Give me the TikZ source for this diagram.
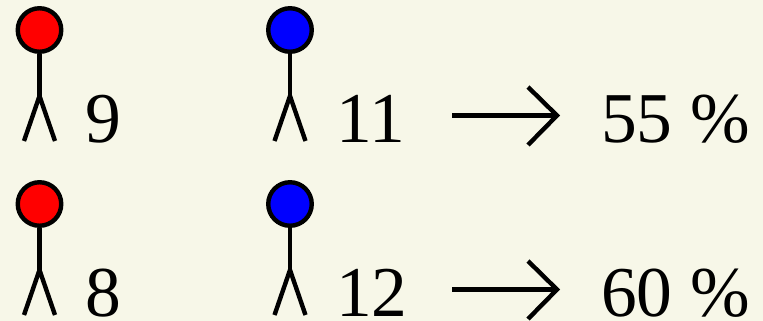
\documentclass[tikz,border=0pt]{standalone}
\usepackage{fontspec}
\setmainfont{Liberation Serif}
\definecolor{bgc}{RGB}{247,247,232}
\tikzset{
 headr/.style={circle,draw=black,line width=4.4pt,fill=red,minimum size=43.5pt,inner sep=0pt},
 headb/.style={headr,fill=blue},
 lbl/.style={inner sep=0pt,font=\fontsize{71.5}{71.5}\selectfont,anchor=base west},
 limb/.style={line width=4.4pt,line cap=butt,line join=miter},
 arr/.style={line width=4.4pt,line cap=butt,line join=miter}
}
\newcommand{\person}[4]{%
 \coordinate (#3w) at (#1pt,{-#2pt-66pt});
 \coordinate (#3l) at ({#1pt-15.5pt},{-#2pt-111pt});
 \coordinate (#3r) at ({#1pt+15.5pt},{-#2pt-111pt});
 \node[#4] (#3h) at (#1pt,-#2pt) {};
 \draw[limb] (#3h.south) -- (#3w);
 \draw[limb] (#3l) -- (#3w) -- (#3r);
}
\begin{document}
\begin{tikzpicture}[x=1pt,y=1pt]
\useasboundingbox (0,0) rectangle (763pt,-321pt);
\fill[bgc] (0,0) rectangle (763pt,-321pt);
\person{39.5}{30}{a}{headr}
\person{290}{30}{b}{headb}
\person{39.5}{204}{c}{headr}
\person{290}{204}{d}{headb}
\node[lbl] (t1) at (85pt,-142pt) {9};
\node[lbl] (t2) at (336pt,-142pt) {11};
\node[lbl] (t3) at (85pt,-316pt) {8};
\node[lbl] (t4) at (336pt,-316pt) {12};
\node[lbl] (p1) at (601pt,-142pt) {55 \%};
\node[lbl] (p2) at (601pt,-316pt) {60 \%};
\coordinate (s1) at (452pt,-115.5pt); \coordinate (e1) at (557pt,-115.5pt);
\coordinate (s2) at (452pt,-289.5pt); \coordinate (e2) at (557pt,-289.5pt);
\draw[arr] (s1) -- (e1);
\draw[arr] (s2) -- (e2);
\draw[arr] (528pt,-87pt) -- (e1) -- (528pt,-145pt);
\draw[arr] (528pt,-261pt) -- (e2) -- (528pt,-319pt);
\end{tikzpicture}
\end{document}
